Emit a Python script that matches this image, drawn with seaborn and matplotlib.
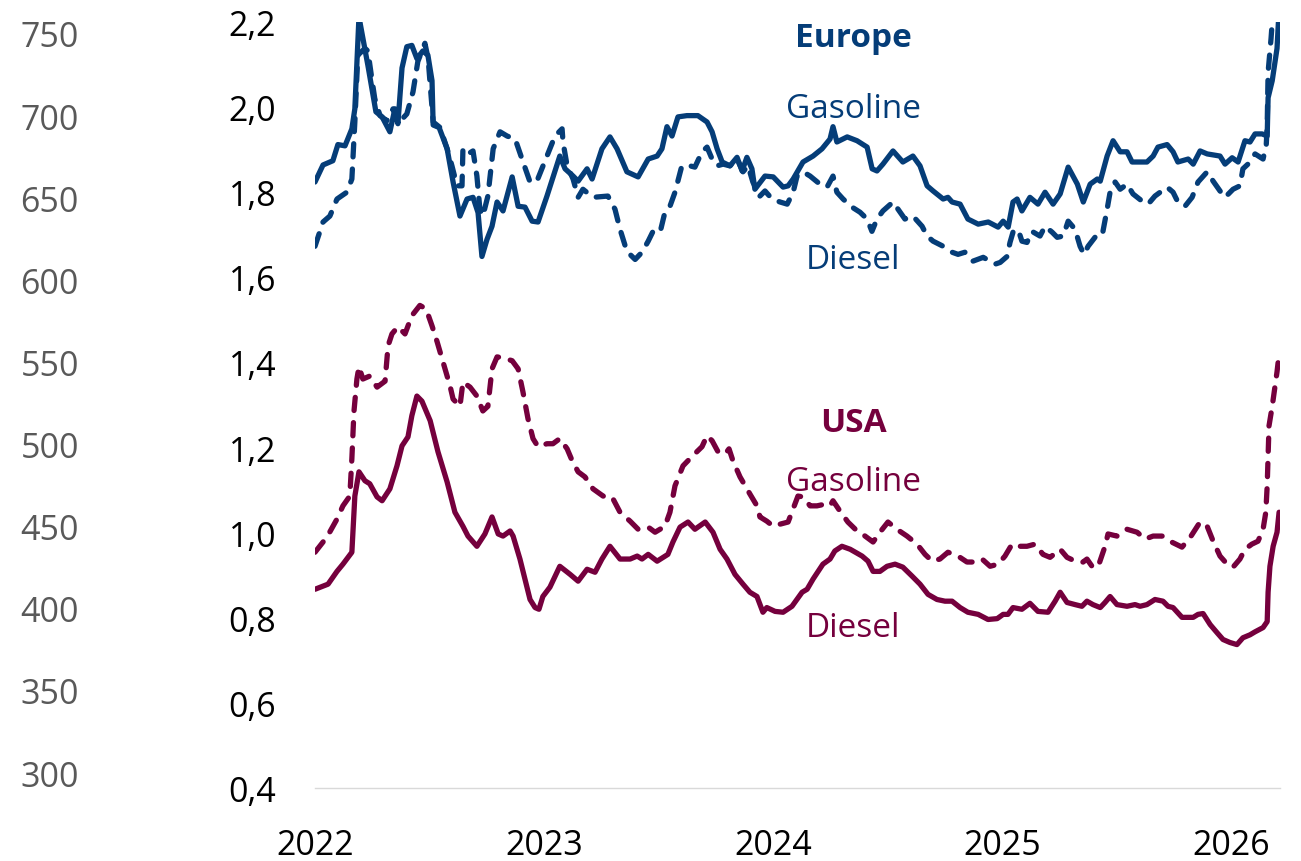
import numpy as np
import pandas as pd
import matplotlib
matplotlib.use("Agg")
import matplotlib.pyplot as plt
import seaborn as sns

# ---------------------------------------------------------------------------
# Weekly fuel price series (decimal year, price)
# ---------------------------------------------------------------------------
eu_gasoline_t = [
    2022.000, 2022.035, 2022.078, 2022.100, 2022.131, 2022.161, 2022.174, 2022.192,
    2022.231, 2022.266, 2022.293, 2022.327, 2022.349, 2022.362, 2022.380, 2022.401,
    2022.423, 2022.445, 2022.471, 2022.493, 2022.511, 2022.516, 2022.542, 2022.577,
    2022.603, 2022.633, 2022.664, 2022.690, 2022.712, 2022.729, 2022.751, 2022.773,
    2022.795, 2022.821, 2022.861, 2022.887, 2022.917, 2022.948, 2022.974,
    2023.013, 2023.069, 2023.092, 2023.127, 2023.149, 2023.188, 2023.210, 2023.253,
    2023.288, 2023.319, 2023.362, 2023.411, 2023.455, 2023.494, 2023.515, 2023.537,
    2023.559, 2023.585, 2023.624, 2023.672, 2023.712, 2023.734, 2023.756, 2023.778,
    2023.812, 2023.843, 2023.865, 2023.886, 2023.908, 2023.921, 2023.965,
    2024.001, 2024.044, 2024.066, 2024.088, 2024.131, 2024.175, 2024.214, 2024.249,
    2024.262, 2024.279, 2024.324, 2024.367, 2024.411, 2024.433, 2024.454, 2024.480,
    2024.524, 2024.567, 2024.589, 2024.611, 2024.642, 2024.673, 2024.699, 2024.743,
    2024.764, 2024.782, 2024.817, 2024.851, 2024.896, 2024.940, 2024.983,
    2025.005, 2025.027, 2025.048, 2025.066, 2025.087, 2025.122, 2025.157, 2025.188,
    2025.223, 2025.254, 2025.289, 2025.329, 2025.355, 2025.385, 2025.416, 2025.429,
    2025.459, 2025.485, 2025.516, 2025.546, 2025.568, 2025.633, 2025.660, 2025.681,
    2025.721, 2025.747, 2025.768, 2025.813, 2025.835, 2025.865, 2025.896, 2025.952,
    2025.974, 2026.005, 2026.031, 2026.061, 2026.083, 2026.105, 2026.136, 2026.158,
    2026.162, 2026.180, 2026.201, 2026.212,
]
eu_gasoline = [
    1.824, 1.864, 1.874, 1.912, 1.909, 1.949, 1.996, 2.212,
    2.098, 1.989, 1.977, 1.942, 1.996, 1.961, 2.092, 2.142,
    2.145, 2.114, 2.132, 2.122, 2.062, 1.958, 1.952, 1.902,
    1.824, 1.744, 1.784, 1.788, 1.752, 1.649, 1.689, 1.720,
    1.777, 1.756, 1.836, 1.767, 1.765, 1.732, 1.730,
    1.791, 1.885, 1.855, 1.838, 1.826, 1.855, 1.831, 1.902,
    1.930, 1.902, 1.848, 1.836, 1.878, 1.885, 1.902, 1.954,
    1.932, 1.977, 1.980, 1.980, 1.965, 1.942, 1.902, 1.871,
    1.862, 1.882, 1.850, 1.882, 1.855, 1.807, 1.838,
    1.836, 1.812, 1.815, 1.831, 1.871, 1.885, 1.902, 1.925,
    1.954, 1.918, 1.930, 1.921, 1.906, 1.855, 1.850, 1.866,
    1.897, 1.871, 1.878, 1.885, 1.862, 1.815, 1.803, 1.784,
    1.788, 1.777, 1.772, 1.737, 1.725, 1.730, 1.718,
    1.732, 1.718, 1.777, 1.784, 1.756, 1.788, 1.772, 1.800,
    1.772, 1.796, 1.859, 1.819, 1.777, 1.819, 1.831, 1.826,
    1.885, 1.921, 1.895, 1.895, 1.871, 1.871, 1.885, 1.906,
    1.912, 1.895, 1.871, 1.878, 1.866, 1.897, 1.890, 1.885,
    1.866, 1.881, 1.871, 1.921, 1.918, 1.937, 1.937, 1.932,
    2.022, 2.062, 2.138, 2.250,
]

eu_diesel_t = [
    2022.000, 2022.035, 2022.065, 2022.096, 2022.139, 2022.161, 2022.174, 2022.187,
    2022.218, 2022.231, 2022.248, 2022.261, 2022.284, 2022.314, 2022.341, 2022.362,
    2022.401, 2022.428, 2022.449, 2022.480, 2022.494, 2022.516, 2022.546, 2022.577,
    2022.598, 2022.620, 2022.642, 2022.646, 2022.668, 2022.690, 2022.707, 2022.720,
    2022.733, 2022.755, 2022.778, 2022.808, 2022.839, 2022.874, 2022.904, 2022.939,
    2022.969,
    2023.013, 2023.048, 2023.079, 2023.083, 2023.101, 2023.127, 2023.149, 2023.170,
    2023.214, 2023.279, 2023.310, 2023.332, 2023.362, 2023.398, 2023.428, 2023.455,
    2023.476, 2023.507, 2023.528, 2023.550, 2023.572, 2023.602, 2023.637, 2023.659,
    2023.690, 2023.712, 2023.734, 2023.756, 2023.782, 2023.812, 2023.843, 2023.869,
    2023.891, 2023.912, 2023.943, 2023.965, 2023.996,
    2024.031, 2024.062, 2024.088, 2024.105, 2024.131, 2024.162, 2024.205, 2024.236,
    2024.262, 2024.279, 2024.306, 2024.345, 2024.380, 2024.411, 2024.432, 2024.454,
    2024.480, 2024.524, 2024.546, 2024.576, 2024.611, 2024.651, 2024.673, 2024.699,
    2024.743, 2024.782, 2024.808, 2024.838, 2024.873, 2024.918, 2024.970, 2024.992,
    2025.022, 2025.035, 2025.048, 2025.070, 2025.087, 2025.109, 2025.131, 2025.166,
    2025.188, 2025.219, 2025.241, 2025.267, 2025.289, 2025.319, 2025.341, 2025.358,
    2025.376, 2025.406, 2025.437, 2025.459, 2025.472, 2025.494, 2025.516, 2025.546,
    2025.572, 2025.612, 2025.638, 2025.668, 2025.721, 2025.747, 2025.768, 2025.799,
    2025.830, 2025.856, 2025.896, 2025.922, 2025.952, 2025.974,
    2026.009, 2026.039, 2026.052, 2026.074, 2026.105, 2026.140, 2026.154, 2026.158,
    2026.162, 2026.175, 2026.188,
]
eu_diesel = [
    1.673, 1.730, 1.744, 1.784, 1.800, 1.831, 1.965, 2.122,
    2.138, 2.132, 2.067, 2.020, 1.980, 1.968, 1.996, 1.961,
    1.984, 2.036, 2.107, 2.150, 2.114, 1.965, 1.952, 1.902,
    1.862, 1.815, 1.815, 1.902, 1.890, 1.897, 1.838, 1.760,
    1.744, 1.791, 1.902, 1.942, 1.932, 1.925, 1.878, 1.824,
    1.826,
    1.885, 1.932, 1.949, 1.918, 1.862, 1.831, 1.788, 1.807,
    1.788, 1.791, 1.760, 1.713, 1.661, 1.642, 1.659, 1.685,
    1.708, 1.706, 1.753, 1.767, 1.800, 1.862, 1.862, 1.859,
    1.895, 1.906, 1.878, 1.862, 1.866, 1.862, 1.878, 1.848,
    1.862, 1.824, 1.791, 1.803, 1.784,
    1.777, 1.772, 1.800, 1.838, 1.848, 1.838, 1.819, 1.812,
    1.838, 1.800, 1.784, 1.765, 1.753, 1.737, 1.708, 1.737,
    1.756, 1.777, 1.760, 1.737, 1.744, 1.720, 1.697, 1.685,
    1.673, 1.659, 1.654, 1.659, 1.638, 1.647, 1.631, 1.635,
    1.649, 1.682, 1.706, 1.713, 1.685, 1.682, 1.708, 1.697,
    1.720, 1.706, 1.694, 1.697, 1.732, 1.713, 1.673, 1.654,
    1.673, 1.694, 1.697, 1.760, 1.800, 1.824, 1.807, 1.819,
    1.796, 1.779, 1.772, 1.791, 1.812, 1.800, 1.777, 1.767,
    1.788, 1.824, 1.848, 1.826, 1.803, 1.788,
    1.807, 1.815, 1.855, 1.866, 1.890, 1.878, 1.912, 1.956,
    2.082, 2.162, 2.260,
]

us_gasoline_t = [
    2022.000, 2022.035, 2022.065, 2022.096, 2022.122, 2022.152, 2022.161, 2022.170,
    2022.183, 2022.192, 2022.209, 2022.239, 2022.271, 2022.306, 2022.319, 2022.336,
    2022.362, 2022.393, 2022.423, 2022.458, 2022.485, 2022.511, 2022.533, 2022.559,
    2022.590, 2022.603, 2022.633, 2022.646, 2022.677, 2022.707, 2022.733, 2022.755,
    2022.773, 2022.795, 2022.821, 2022.861, 2022.887, 2022.908, 2022.930, 2022.952,
    2022.974,
    2023.013, 2023.039, 2023.069, 2023.101, 2023.123, 2023.149, 2023.179, 2023.214,
    2023.258, 2023.297, 2023.332, 2023.376, 2023.411, 2023.455, 2023.485, 2023.528,
    2023.550, 2023.572, 2023.607, 2023.650, 2023.690, 2023.712, 2023.734, 2023.760,
    2023.791, 2023.808, 2023.825, 2023.856, 2023.899, 2023.930, 2023.943, 2023.973,
    2024.001, 2024.031, 2024.066, 2024.088, 2024.109, 2024.131, 2024.162, 2024.192,
    2024.227, 2024.249, 2024.262, 2024.292, 2024.327, 2024.367, 2024.402, 2024.437,
    2024.467, 2024.502, 2024.541, 2024.585, 2024.629, 2024.664, 2024.695, 2024.729,
    2024.764, 2024.808, 2024.847, 2024.882, 2024.913, 2024.948, 2024.983,
    2025.013, 2025.044, 2025.070, 2025.109, 2025.144, 2025.179, 2025.210, 2025.254,
    2025.284, 2025.328, 2025.354, 2025.371, 2025.393, 2025.419, 2025.450, 2025.463,
    2025.502, 2025.546, 2025.590, 2025.625, 2025.660, 2025.699, 2025.733, 2025.786,
    2025.822, 2025.865, 2025.896, 2025.922, 2025.952, 2025.983,
    2026.009, 2026.039, 2026.061, 2026.091, 2026.118, 2026.140, 2026.152, 2026.158,
    2026.162, 2026.166, 2026.180, 2026.192, 2026.201, 2026.210,
]
us_gasoline = [
    0.954, 0.978, 1.002, 1.032, 1.063, 1.086, 1.174, 1.284,
    1.361, 1.390, 1.361, 1.368, 1.342, 1.356, 1.439, 1.467,
    1.484, 1.467, 1.510, 1.534, 1.526, 1.486, 1.449, 1.401,
    1.344, 1.314, 1.297, 1.354, 1.342, 1.321, 1.286, 1.297,
    1.385, 1.413, 1.411, 1.404, 1.385, 1.331, 1.268, 1.221,
    1.202,
    1.209, 1.209, 1.221, 1.197, 1.169, 1.143, 1.131, 1.103,
    1.086, 1.084, 1.048, 1.027, 1.008, 1.013, 1.001, 1.015,
    1.048, 1.110, 1.157, 1.181, 1.202, 1.228, 1.216, 1.190,
    1.185, 1.197, 1.169, 1.131, 1.091, 1.063, 1.037, 1.027,
    1.015, 1.020, 1.025, 1.056, 1.086, 1.084, 1.063, 1.063,
    1.067, 1.063, 1.075, 1.051, 1.025, 1.004, 0.992, 0.978,
    1.001, 1.025, 1.008, 0.992, 0.973, 0.949, 0.933, 0.938,
    0.954, 0.945, 0.931, 0.931, 0.938, 0.921, 0.926,
    0.945, 0.973, 0.968, 0.968, 0.973, 0.949, 0.942, 0.961,
    0.942, 0.931, 0.931, 0.938, 0.921, 0.919, 0.968, 0.997,
    0.992, 1.008, 1.001, 0.985, 0.992, 0.992, 0.980, 0.966,
    0.989, 1.025, 1.015, 0.980, 0.945, 0.926,
    0.919, 0.938, 0.961, 0.973, 0.980, 1.008, 1.048, 1.110,
    1.181, 1.251, 1.297, 1.344, 1.378, 1.420,
]

us_diesel_t = [
    2022.000, 2022.057, 2022.096, 2022.122, 2022.161, 2022.174, 2022.192, 2022.218,
    2022.239, 2022.271, 2022.293, 2022.327, 2022.358, 2022.380, 2022.406, 2022.423,
    2022.445, 2022.467, 2022.503, 2022.537, 2022.577, 2022.611, 2022.646, 2022.668,
    2022.707, 2022.742, 2022.773, 2022.800, 2022.821, 2022.852, 2022.865, 2022.895,
    2022.939, 2022.961, 2022.978, 2022.995,
    2023.026, 2023.069, 2023.114, 2023.149, 2023.188, 2023.223, 2023.253, 2023.288,
    2023.332, 2023.376, 2023.407, 2023.428, 2023.455, 2023.494, 2023.541, 2023.563,
    2023.594, 2023.629, 2023.659, 2023.704, 2023.738, 2023.769, 2023.799, 2023.834,
    2023.869, 2023.899, 2023.930, 2023.956, 2023.973,
    2024.009, 2024.044, 2024.083, 2024.127, 2024.149, 2024.175, 2024.218, 2024.249,
    2024.270, 2024.301, 2024.337, 2024.389, 2024.415, 2024.437, 2024.467, 2024.498,
    2024.533, 2024.567, 2024.607, 2024.642, 2024.677, 2024.716, 2024.751, 2024.782,
    2024.817, 2024.851, 2024.896, 2024.939, 2024.979,
    2025.005, 2025.026, 2025.048, 2025.087, 2025.122, 2025.157, 2025.201, 2025.232,
    2025.254, 2025.284, 2025.319, 2025.349, 2025.371, 2025.397, 2025.429, 2025.450,
    2025.472, 2025.502, 2025.546, 2025.581, 2025.603, 2025.633, 2025.668, 2025.703,
    2025.725, 2025.747, 2025.786, 2025.813, 2025.835, 2025.856, 2025.878, 2025.909,
    2025.939, 2025.965, 2025.995,
    2026.026, 2026.052, 2026.083, 2026.105, 2026.140, 2026.158, 2026.162, 2026.170,
    2026.184, 2026.201, 2026.210,
]
us_diesel = [
    0.867, 0.879, 0.909, 0.926, 0.954, 1.086, 1.143, 1.122,
    1.115, 1.084, 1.075, 1.103, 1.157, 1.204, 1.225, 1.275,
    1.321, 1.309, 1.263, 1.190, 1.119, 1.048, 1.015, 0.992,
    0.968, 0.997, 1.037, 0.997, 0.992, 1.004, 0.992, 0.938,
    0.843, 0.824, 0.820, 0.850,
    0.872, 0.921, 0.902, 0.886, 0.914, 0.907, 0.938, 0.968,
    0.938, 0.938, 0.945, 0.938, 0.949, 0.933, 0.949, 0.978,
    1.013, 1.025, 1.008, 1.025, 1.001, 0.961, 0.938, 0.902,
    0.879, 0.860, 0.850, 0.813, 0.824,
    0.815, 0.813, 0.827, 0.860, 0.867, 0.891, 0.926, 0.938,
    0.957, 0.968, 0.961, 0.945, 0.933, 0.909, 0.909, 0.921,
    0.926, 0.919, 0.898, 0.879, 0.855, 0.843, 0.839, 0.839,
    0.824, 0.813, 0.808, 0.796, 0.798,
    0.808, 0.808, 0.824, 0.820, 0.834, 0.815, 0.813, 0.839,
    0.860, 0.836, 0.831, 0.827, 0.839, 0.831, 0.824, 0.836,
    0.850, 0.831, 0.827, 0.831, 0.827, 0.831, 0.843, 0.839,
    0.827, 0.824, 0.801, 0.801, 0.801, 0.808, 0.810, 0.784,
    0.765, 0.749, 0.742,
    0.737, 0.753, 0.760, 0.767, 0.777, 0.791, 0.860, 0.921,
    0.968, 1.001, 1.048,
]

# Secondary (left, outer) scale and axis labels
outer_ticks = [300, 350, 400, 450, 500, 550, 600, 650, 700, 750]
inner_ticks = [0.4, 0.6, 0.8, 1.0, 1.2, 1.4, 1.6, 1.8, 2.0, 2.2]
year_ticks = [2022, 2023, 2024, 2025, 2026]

BLUE = "#053D78"
MAROON = "#75003D"
GREY_TEXT = "#595959"
AXIS_GREY = "#D9D9D9"

sns.set_style("white")
plt.rcParams["font.family"] = ["Open Sans", "DejaVu Sans"]

W, H = 1301, 862
fig = plt.figure(figsize=(W / 100, H / 100), dpi=100)
left_px, right_px, top_px, bottom_px = 315, 1280, 23, 789
ax = fig.add_axes([left_px / W, 1 - bottom_px / H,
                   (right_px - left_px) / W, (bottom_px - top_px) / H])

frames = {
    "eu_gas": pd.DataFrame({"t": eu_gasoline_t, "v": eu_gasoline}),
    "eu_die": pd.DataFrame({"t": eu_diesel_t, "v": eu_diesel}),
    "us_gas": pd.DataFrame({"t": us_gasoline_t, "v": us_gasoline}),
    "us_die": pd.DataFrame({"t": us_diesel_t, "v": us_diesel}),
}
dash = (0, (2.5, 2.3))
styles = {
    "eu_gas": (BLUE, "-"),
    "eu_die": (BLUE, dash),
    "us_gas": (MAROON, dash),
    "us_die": (MAROON, "-"),
}
for key in ["us_gas", "us_die", "eu_die", "eu_gas"]:
    color, ls = styles[key]
    sns.lineplot(data=frames[key], x="t", y="v", ax=ax, color=color,
                 linewidth=3.8, linestyle=ls, estimator=None, sort=False,
                 dash_capstyle="round", solid_capstyle="round",
                 solid_joinstyle="round", dash_joinstyle="round")

ax.set_xlim(2022, 2022 + (right_px - left_px) / 229)
ax.set_ylim(0.4, 2.2)
ax.set_xlabel("")
ax.set_ylabel("")
ax.set_xticks(year_ticks)
ax.set_xticklabels([str(y) for y in year_ticks])
ax.set_yticks(inner_ticks)
ax.set_yticklabels([f"{v:.1f}".replace(".", ",") for v in inner_ticks])
for side in ["top", "right", "left"]:
    ax.spines[side].set_visible(False)
ax.spines["bottom"].set_color(AXIS_GREY)
ax.spines["bottom"].set_linewidth(1.0)
ax.tick_params(axis="x", length=8.6, width=1.0, color=AXIS_GREY,
               labelsize=24.5, labelcolor="black", pad=20, direction="out")
ax.tick_params(axis="y", length=0, labelsize=24.5, labelcolor="black", pad=28)

# Outer scale on the far left
ax2 = ax.twinx()
ax2.set_ylim(290.6, 757.0)
ax2.set_yticks(outer_ticks)
ax2.set_yticklabels([str(v) for v in outer_ticks])
ax2.yaxis.tick_left()
ax2.tick_params(axis="y", length=0, labelsize=24.5, labelcolor=GREY_TEXT, pad=170)
for s in ax2.spines.values():
    s.set_visible(False)
ax2.set_ylabel("")

# Region and product labels
xc = 2022 + (853 - left_px) / 229
ax.text(xc, 2.144, "Europe", color=BLUE, fontsize=24, fontweight="bold",
        ha="center", va="baseline")
ax.text(xc, 1.976, "Gasoline", color=BLUE, fontsize=24, ha="center", va="baseline")
ax.text(xc, 1.621, "Diesel", color=BLUE, fontsize=24, ha="center", va="baseline")
ax.text(xc, 1.240, "USA", color=MAROON, fontsize=24, fontweight="bold",
        ha="center", va="baseline")
ax.text(xc, 1.101, "Gasoline", color=MAROON, fontsize=24, ha="center", va="baseline")
ax.text(xc, 0.758, "Diesel", color=MAROON, fontsize=24, ha="center", va="baseline")

fig.savefig("out.png", dpi=100, facecolor="white")
